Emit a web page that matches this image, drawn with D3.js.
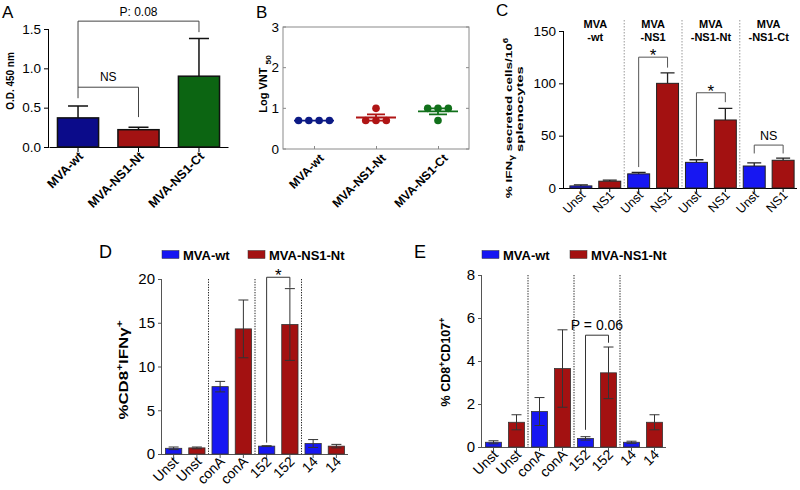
<!DOCTYPE html>
<html>
<head>
<meta charset="utf-8">
<script src="https://cdn.jsdelivr.net/npm/d3@7"></script>
<style>
body { margin: 0; background: #fff; }
svg { font-family: "Liberation Sans", Arial, Helvetica, sans-serif; }
</style>
</head>
<body>
<script>
// ---- panel A: ELISA O.D.
const aGroups = ["MVA-wt", "MVA-NS1-Nt", "MVA-NS1-Ct"];
const aMeans = [0.37, 0.22, 0.90];
const aErrTop = [0.52, 0.25, 1.38];
const aTicks = [0, 0.5, 1.0, 1.5];
const aColors = ["#0b0b8a", "#a21212", "#0c6512"];

// ---- panel B: neutralisation titres, one value per mouse
const bGroups = ["MVA-wt", "MVA-NS1-Nt", "MVA-NS1-Ct"];
const bPoints = [
	[0.7, 0.7, 0.7, 0.7],
	[1.0, 0.7, 0.7, 0.7],
	[1.0, 1.0, 1.0, 0.7]
];
const bTicks = [0, 1, 2, 3];
const bColors = ["#0c1a85", "#b01515", "#11701a"];

// ---- panel C: ELISPOT
const cGroupTop = ["MVA", "MVA", "MVA", "MVA"];
const cGroupSub = ["-wt", "-NS1", "-NS1-Nt", "-NS1-Ct"];
const cLabels = ["Unst", "NS1", "Unst", "NS1", "Unst", "NS1", "Unst", "NS1"];
const cValues = [2, 6.5, 13.5, 100, 24.5, 65, 21, 26.5];
const cErrTop = [3, 7.5, 15, 110, 27, 76, 24, 28.5];
const cTicks = [0, 50, 100, 150];
// brackets: [left bar, right bar, top value, left leg end, right leg end, label]
const cBrackets = [
	[2, 3, 125, 20, 115, "*"],
	[4, 5, 91, 30, 82, "*"],
	[6, 7, 41, 33, 33, "NS"]
];

// ---- panels D and E: ICS
const series = ["MVA-wt", "MVA-NS1-Nt"];
const seriesColors = ["#1717f2", "#a31111"];
const icsLabels = ["Unst", "Unst", "conA", "conA", "152", "152", "14", "14"];
const dValues = [0.65, 0.7, 7.7, 14.3, 0.9, 14.8, 1.2, 0.9];
const dErr = [0.15, 0.1, 0.6, 3.3, 0.05, 4.1, 0.45, 0.2];
const dTicks = [0, 5, 10, 15, 20];
const eValues = [0.22, 1.15, 1.65, 3.65, 0.4, 3.45, 0.22, 1.15];
const eErr = [0.07, 0.35, 0.65, 1.8, 0.08, 1.2, 0.05, 0.35];
const eTicks = [0, 2, 4, 6, 8];

const svg = d3.select("body").append("svg")
	.attr("width", 800)
	.attr("height", 490);

function panelLetter(txt, x, y, size) {
	svg.append("text").attr("x", x).attr("y", y)
		.style("font-size", size).text(txt);
}

function rotateTicks(g, dx, dy, size) {
	g.selectAll(".tick text")
		.attr("x", dx).attr("y", dy).attr("dy", "0.35em")
		.attr("transform", "rotate(-45)")
		.style("text-anchor", "end")
		.style("font-size", size);
}

// vertical axis title, stretched along its own direction like the source figure
function yTitle(g, x, y, size, stretch) {
	return g.append("text")
		.attr("transform", `translate(${x},${y}) rotate(-90) scale(${stretch},1)`)
		.attr("text-anchor", "middle")
		.style("font-size", size).style("font-weight", "bold");
}

function drawBracket(g, x, y, b, labelSize, color) {
	const x0 = x(b[0]) + x.bandwidth() / 2;
	const x1 = x(b[1]) + x.bandwidth() / 2;
	const yt = y(b[2]);
	g.append("path")
		.attr("d", `M${x0},${y(b[3])}V${yt}H${x1}V${y(b[4])}`)
		.attr("fill", "none").attr("stroke", color).attr("stroke-width", 1);
	const star = b[5] === "*";
	g.append("text")
		.attr("x", (x0 + x1) / 2).attr("y", star ? yt + 4 : yt - 5)
		.attr("text-anchor", "middle")
		.style("font-size", star ? "17px" : labelSize)
		.text(b[5]);
}

// ================= A =================
{
	const x = d3.scaleBand().domain(d3.range(aGroups.length)).range([49, 228]).paddingInner(0.32).paddingOuter(0.14);
	const y = d3.scaleLinear().domain([0, 1.5]).range([147, 29]);
	const g = svg.append("g");

	g.append("g").attr("transform", "translate(49,0)")
		.call(d3.axisLeft(y).tickValues(aTicks).tickFormat(d3.format(".1f")).tickSize(5))
		.call(a => a.select(".domain").attr("d", "M-0.5,29V147"))
		.call(a => a.selectAll("text").style("font-size", "13.5px"));

	const xa = g.append("g").attr("transform", "translate(0,147)")
		.call(d3.axisBottom(x).tickFormat(i => aGroups[i]).tickSize(5).tickSizeOuter(0));
	xa.selectAll("text").style("font-weight", "bold");
	rotateTicks(xa, -3, 7, "12.5px");

	g.selectAll(".err").data(aMeans).join("path")
		.attr("d", (d, i) => {
			const cx = x(i) + x.bandwidth() / 2;
			return `M${cx},${y(d)}V${y(aErrTop[i])}M${cx - 10},${y(aErrTop[i])}H${cx + 10}`;
		})
		.attr("stroke", "#111").attr("stroke-width", 1.5);

	g.selectAll(".bar").data(aMeans).join("rect")
		.attr("x", (d, i) => x(i)).attr("width", x.bandwidth())
		.attr("y", d => y(d)).attr("height", d => y(0) - y(d))
		.attr("fill", (d, i) => aColors[i])
		.attr("stroke", "#111").attr("stroke-width", 1.5);

	const c = i => x(i) + x.bandwidth() / 2;
	g.append("path")
		.attr("d", `M${c(0)},${y(0.62)}V${y(1.6)}H${c(2)}V${y(1.46)}M${c(0)},${y(0.76)}H${c(1)}V${y(0.38)}`)
		.attr("fill", "none").attr("stroke", "#444");
	g.append("text").attr("x", (c(0) + c(2)) / 2).attr("y", y(1.6) - 5)
		.attr("text-anchor", "middle").style("font-size", "12px").text("P: 0.08");
	g.append("text").attr("x", (c(0) + c(1)) / 2).attr("y", y(0.76) - 6)
		.attr("text-anchor", "middle").style("font-size", "12px").text("NS");

	yTitle(g, 14, 81, "10.5px", 0.95).text("O.D. 450 nm");
	panelLetter("A", 2, 18, "17px");
}

// ================= B =================
{
	const x = d3.scalePoint().domain(d3.range(bGroups.length)).range([283, 469]).padding(0.5);
	const y = d3.scaleLinear().domain([0, 3]).range([149, 27]);
	const g = svg.append("g");
	const grey = "#8a8a8a";

	g.append("rect").attr("x", 283).attr("y", 27).attr("width", 186).attr("height", 122)
		.attr("fill", "none").attr("stroke", grey);

	g.append("g").attr("transform", "translate(283,0)")
		.call(d3.axisLeft(y).tickValues(bTicks).tickFormat(d3.format("d")).tickSize(0).tickPadding(4))
		.call(a => a.select(".domain").remove())
		.call(a => a.selectAll("text").style("font-size", "13.5px"));
	g.selectAll(".ty").data(bTicks).join("path")
		.attr("d", d => `M283,${y(d)}h3M469,${y(d)}h-3`).attr("stroke", grey);

	const xa = g.append("g").attr("transform", "translate(0,149)")
		.call(d3.axisBottom(x).tickFormat(i => bGroups[i]).tickSize(-3).tickPadding(4));
	xa.select(".domain").remove();
	xa.selectAll("line").attr("stroke", grey);
	xa.selectAll("text").style("font-weight", "bold");
	rotateTicks(xa, 0, 10, "12px");

	bPoints.forEach((pts, gi) => {
		const col = bColors[gi];
		const m = d3.mean(pts);
		const se = d3.deviation(pts) / Math.sqrt(pts.length) || 0;
		const cx = x(gi);
		// equal values sit side by side
		const byVal = d3.group(pts, v => v);
		const placed = [];
		byVal.forEach(arr => arr.forEach((v, k) => placed.push({ v, off: (k - (arr.length - 1) / 2) * 10.3 })));
		g.selectAll(null).data(placed).join("circle")
			.attr("cx", d => cx + d.off).attr("cy", d => y(d.v)).attr("r", 3.8)
			.attr("fill", col);
		g.append("path")
			.attr("d", `M${cx - 20},${y(m)}H${cx + 20}M${cx - 9},${y(m + se)}H${cx + 9}M${cx - 9},${y(m - se)}H${cx + 9}M${cx},${y(m + se)}V${y(m - se)}`)
			.attr("stroke", col).attr("stroke-width", 1.8);
	});

	const yl = yTitle(g, 267, 84, "10.5px", 1.05);
	yl.append("tspan").text("Log VNT ");
	yl.append("tspan").attr("dy", 4).style("font-size", "8px").text("50");
	panelLetter("B", 256, 18, "17px");
}

// ================= C =================
{
	const x = d3.scaleBand().domain(d3.range(cValues.length)).range([567, 797]).paddingInner(0.24).paddingOuter(0.1);
	const y = d3.scaleLinear().domain([0, 150]).range([188, 31]);
	const g = svg.append("g");
	const step = x.step();

	g.selectAll(".sep").data([2, 4, 6]).join("line")
		.attr("x1", d => x(d) - step * x.paddingInner() / 2).attr("x2", d => x(d) - step * x.paddingInner() / 2)
		.attr("y1", 20).attr("y2", 188)
		.attr("stroke", "#999").attr("stroke-dasharray", "1.5,1.5");

	g.append("g").attr("transform", "translate(564,0)")
		.call(d3.axisLeft(y).tickValues(cTicks).tickSize(5))
		.call(a => a.select(".domain").attr("d", "M-0.5,31V188"))
		.call(a => a.selectAll("text").style("font-size", "13.5px"));

	const xa = g.append("g").attr("transform", "translate(0,188)")
		.call(d3.axisBottom(x).tickFormat(i => cLabels[i]).tickSize(4).tickSizeOuter(0));
	xa.select(".domain").attr("d", "M564,0.5H797");
	rotateTicks(xa, -2, 5, "12.5px");

	g.selectAll(".err").data(cValues).join("path")
		.attr("d", (d, i) => {
			const cx = x(i) + x.bandwidth() / 2;
			return `M${cx},${y(d)}V${y(cErrTop[i])}M${cx - 7},${y(cErrTop[i])}H${cx + 7}`;
		})
		.attr("stroke", "#222").attr("stroke-width", 1.3);

	g.selectAll(".bar").data(cValues).join("rect")
		.attr("x", (d, i) => x(i)).attr("width", x.bandwidth())
		.attr("y", d => y(d)).attr("height", d => y(0) - y(d))
		.attr("fill", (d, i) => seriesColors[i % 2])
		.attr("stroke", "#222").attr("stroke-width", 1);

	cBrackets.forEach(b => drawBracket(g, x, y, b, "12.5px", "#555"));

	cGroupSub.forEach((s, k) => {
		const cx = (x(2 * k) + x(2 * k + 1) + x.bandwidth()) / 2;
		g.append("text").attr("x", cx).attr("y", 28).attr("text-anchor", "middle")
			.style("font-size", "11px").style("font-weight", "bold").text(cGroupTop[k]);
		g.append("text").attr("x", cx).attr("y", 41).attr("text-anchor", "middle")
			.style("font-size", "11px").style("font-weight", "bold").text(s);
	});

	const yl = yTitle(g, 512, 118, "9px", 1.5);
	yl.append("tspan").text("% IFN");
	yl.append("tspan").attr("dy", 2).style("font-size", "7px").text("γ");
	yl.append("tspan").attr("dy", -2).text(" secreted cells/10");
	yl.append("tspan").attr("dy", -4).style("font-size", "6.5px").text("6");
	yTitle(g, 523, 109, "9px", 1.65).text("splenocytes");
	panelLetter("C", 496, 16, "17px");
}

// ================= D and E =================
function icsPanel(opt) {
	const x = d3.scaleBand().domain(d3.range(opt.values.length)).range([opt.x0, opt.x1]).paddingInner(0.3).paddingOuter(0.15);
	const y = d3.scaleLinear().domain([0, opt.max]).range([opt.y0, opt.y1]);
	const g = svg.append("g");
	const step = x.step();

	g.selectAll(".sep").data([2, 4, 6]).join("line")
		.attr("x1", d => x(d) - step * x.paddingInner() / 2).attr("x2", d => x(d) - step * x.paddingInner() / 2)
		.attr("y1", opt.y1).attr("y2", opt.y0)
		.attr("stroke", "#222").attr("stroke-dasharray", "1.3,1.3");

	g.append("g").attr("transform", `translate(${opt.x0},0)`)
		.call(d3.axisLeft(y).tickValues(opt.ticks).tickSize(4))
		.call(a => a.select(".domain").attr("d", `M-0.5,${opt.y1}V${opt.y0}`).attr("stroke", "#555"))
		.call(a => a.selectAll("line").attr("stroke", "#555"))
		.call(a => a.selectAll("text").style("font-size", "15px"));

	const xa = g.append("g").attr("transform", `translate(0,${opt.y0})`)
		.call(d3.axisBottom(x).tickFormat(i => icsLabels[i]).tickSize(4).tickSizeOuter(0));
	xa.select(".domain").attr("d", `M${opt.x0},0.5H${opt.x1}`).attr("stroke", "#555");
	xa.selectAll("line").attr("stroke", "#555");
	rotateTicks(xa, -2, 5, "14px");

	g.selectAll(".bar").data(opt.values).join("rect")
		.attr("x", (d, i) => x(i)).attr("width", x.bandwidth())
		.attr("y", d => y(d)).attr("height", d => y(0) - y(d))
		.attr("fill", (d, i) => seriesColors[i % 2])
		.attr("stroke", "#333").attr("stroke-width", 0.8);

	g.selectAll(".err").data(opt.values).join("path")
		.attr("d", (d, i) => {
			const cx = x(i) + x.bandwidth() / 2;
			const hi = y(d + opt.err[i]), lo = y(d - opt.err[i]);
			return `M${cx},${lo}V${hi}M${cx - 5},${hi}H${cx + 5}M${cx - 5},${lo}H${cx + 5}`;
		})
		.attr("stroke", "#333").attr("stroke-width", 1);

	drawBracket(g, x, y, opt.bracket, "14px", "#333");

	// legend
	series.forEach((s, k) => {
		const lx = opt.legendX[k];
		g.append("rect").attr("x", lx).attr("y", 250.5).attr("width", 17).attr("height", 8)
			.attr("fill", seriesColors[k]).attr("stroke", "#333").attr("stroke-width", 0.5);
		g.append("text").attr("x", lx + 21).attr("y", 259.5)
			.style("font-size", "13px").style("font-weight", "bold").text(s);
	});

	const yl = yTitle(g, opt.labelX, opt.labelY, opt.labelSize, opt.labelStretch);
	opt.label.forEach(p => {
		const t = yl.append("tspan").text(p[0]);
		if (p[1] === "sup") t.attr("dy", -5).style("font-size", "0.7em");
		if (p[1] === "back") t.attr("dy", 5);
	});
	panelLetter(opt.letter, opt.letterX, 258, "18px");
}

icsPanel({
	values: dValues, err: dErr, ticks: dTicks, max: 20,
	x0: 162, x1: 348, y0: 454, y1: 279,
	bracket: [4, 5, 20.2, 1.3, 19.0, "*"],
	legendX: [162, 248],
	label: [["%CD8"], ["+", "sup"], ["IFNγ", "back"], ["+", "sup"]],
	labelX: 128, labelY: 370, labelSize: "13px", labelStretch: 1.3,
	letter: "D", letterX: 99
});

icsPanel({
	values: eValues, err: eErr, ticks: eTicks, max: 8,
	x0: 482, x1: 666, y0: 447, y1: 275,
	bracket: [4, 5, 5.2, 0.8, 4.85, "P = 0.06"],
	legendX: [482, 570],
	label: [["% CD8"], ["+", "sup"], ["CD107", "back"], ["+", "sup"]],
	labelX: 450, labelY: 362, labelSize: "12.5px", labelStretch: 1.0,
	letter: "E", letterX: 414
});
</script>
</body>
</html>
